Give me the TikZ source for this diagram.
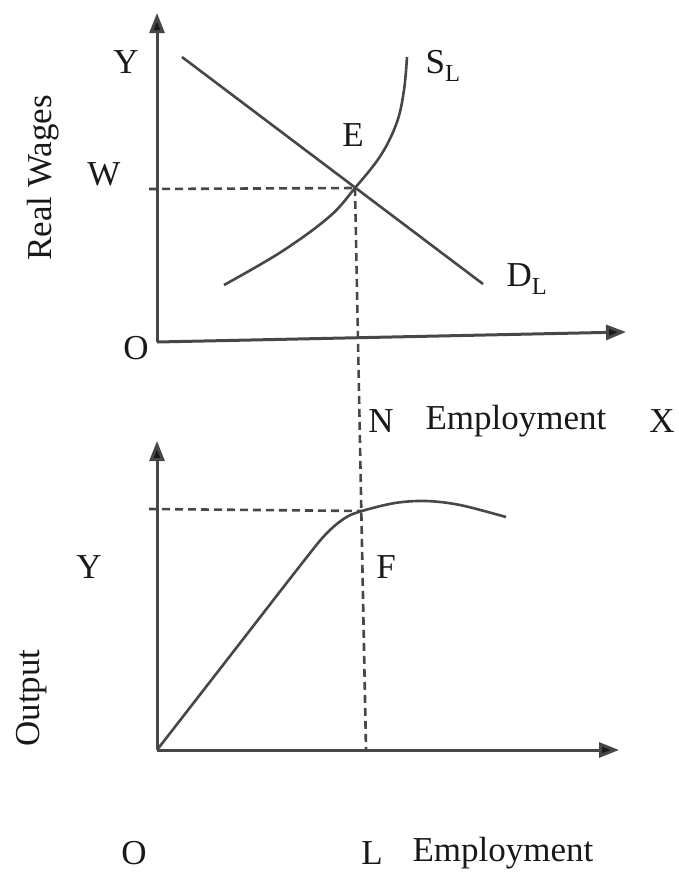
\documentclass[tikz,border=0pt]{standalone}
\usepackage{fontspec}
\setmainfont{Liberation Serif}
\usetikzlibrary{arrows.meta}
\begin{document}
\begin{tikzpicture}[x=1pt,y=-1pt,
  lbl/.style={font=\fontsize{35}{40}\selectfont, inner sep=0pt, text=black!90},
  axis/.style={line width=3pt, draw=black!72, -{Triangle[length=20pt,width=15pt,fill=black!90]}},
  curve/.style={line width=2.6pt, draw=black!72},
  guide/.style={line width=2.6pt, draw=black!72, dash pattern=on 8pt off 5pt}]
\useasboundingbox (0,0) rectangle (678,873);
% ---------- top panel ----------
\coordinate (O1) at (157,342);
\coordinate (Ytop) at (157,13);
\coordinate (Xend) at (626,332);
\coordinate (E) at (355,188);
\coordinate (Wl) at (149,189);
\coordinate (D1) at (182,57);
\coordinate (D2) at (483,284);
\draw[axis] (O1) -- (Ytop);
\draw[axis] (O1) -- (Xend);
\draw[curve] (D1) -- (D2);
\draw[curve] plot[smooth, tension=0.6] coordinates {(224,285) (281,252) (329,217) (355,188) (381,155) (397,122) (404,90) (407,57)};
\draw[guide] (Wl) -- (E);
% ---------- bottom panel ----------
\coordinate (O2) at (157,750);
\coordinate (Ytop2) at (157,441);
\coordinate (Xend2) at (619,750);
\coordinate (L) at (366,750);
\coordinate (F) at (362,511);
\coordinate (Yl) at (149,509);
\draw[axis] (O2) -- (Ytop2);
\draw[axis] (O2) -- (Xend2);
\draw[curve] plot[smooth, tension=0.55] coordinates {(157,750) (230,656) (303,562) (326,534) (345,518) (362,511) (395,503) (426,501) (460,505) (506,517)};
\draw[guide] (Yl) -- (F);
\draw[guide] (E) -- (L);
% ---------- labels ----------
\node[lbl] (tY) at (126,62) {Y};
\node[lbl] (tS) at (443,66) {S\textsubscript{L}};
\node[lbl] (tE) at (353,135) {E};
\node[lbl] (tW) at (104,174) {W};
\node[lbl] (tD) at (527,279) {D\textsubscript{L}};
\node[lbl] (tO1) at (136,348) {O};
\node[lbl, rotate=90] (tRW) at (43,178) {Real Wages};
\node[lbl] (tN) at (381,421) {N};
\node[lbl] (tEmp1) at (516,421) {Employment};
\node[lbl] (tX) at (662,421) {X};
\node[lbl] (tY2) at (89,567) {Y};
\node[lbl] (tF) at (386,567) {F};
\node[lbl, rotate=90] (tOut) at (32,698) {Output};
\node[lbl] (tO2) at (134,853) {O};
\node[lbl] (tL) at (372,853) {L};
\node[lbl] (tEmp2) at (503,853) {Employment};
\end{tikzpicture}
\end{document}
